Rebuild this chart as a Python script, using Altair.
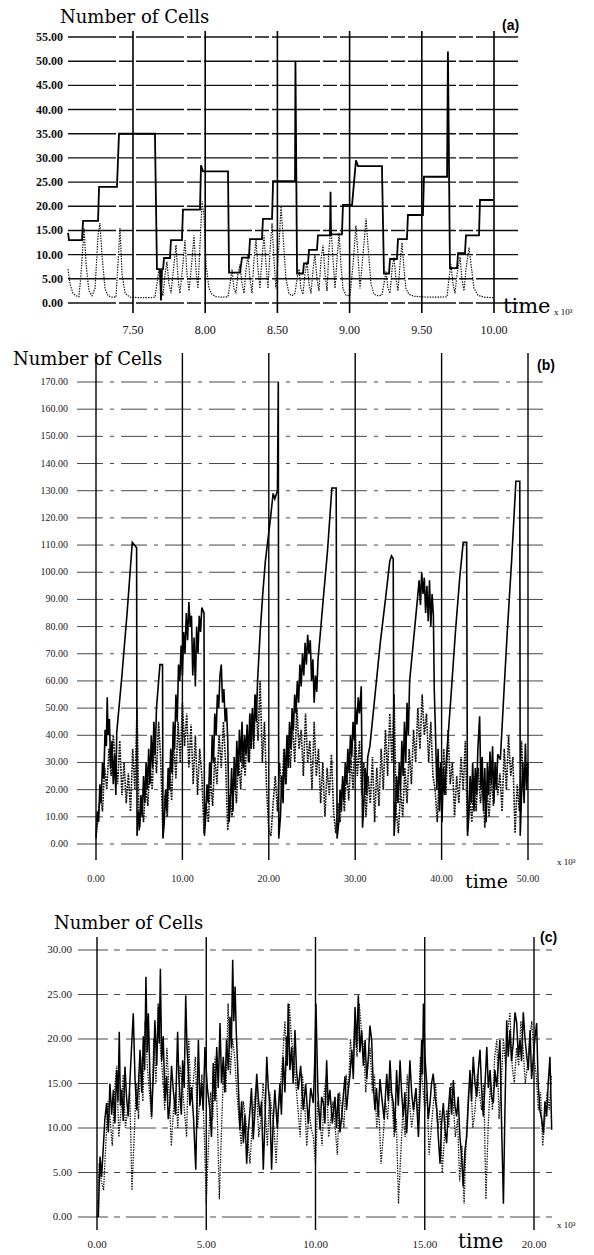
import altair as alt
import pandas as pd

# ---------------- Panel (a) ----------------
a_solid = [(7.050, 14.5), (7.057, 13), (7.147, 13), (7.154, 17), (7.258, 17), (7.265, 24), (7.389, 24), (7.403, 35),
           (7.652, 35), (7.666, 7), (7.687, 7), (7.694, 0.5), (7.701, 7), (7.708, 7), (7.715, 9.3), (7.756, 9.3),
           (7.763, 13), (7.839, 13), (7.846, 19.3), (7.964, 19.3), (7.971, 28.5), (7.985, 27.2), (8.158, 27.2),
           (8.165, 6.3), (8.241, 6.3), (8.255, 9.4), (8.303, 9.4), (8.310, 13.2), (8.393, 13.2), (8.400, 17.4),
           (8.463, 17.4), (8.470, 25.2), (8.622, 25.2), (8.625, 50), (8.636, 6.1), (8.677, 6.1), (8.684, 8.2),
           (8.712, 8.2), (8.719, 11), (8.774, 11), (8.781, 14), (8.864, 14), (8.868, 23), (8.871, 14.2),
           (8.947, 14.2), (8.954, 20.3), (9.017, 20.3), (9.044, 29.5), (9.058, 28.3), (9.224, 28.3), (9.238, 6.1),
           (9.273, 6.1), (9.280, 9.1), (9.328, 9.1), (9.335, 13.2), (9.397, 13.2), (9.404, 18.2), (9.508, 18.2),
           (9.515, 26.1), (9.675, 26.1), (9.681, 52), (9.695, 7.2), (9.744, 7.2), (9.751, 10.3), (9.799, 10.3),
           (9.806, 14), (9.896, 14), (9.903, 21.3), (9.993, 21.3)]

a_dotted = [(7.050, 7), (7.064, 4), (7.084, 2), (7.105, 1.5), (7.126, 1.3), (7.140, 6), (7.161, 15.5), (7.175, 8),
            (7.195, 2.5), (7.216, 1.5), (7.237, 3), (7.258, 14), (7.271, 16.5), (7.285, 10), (7.306, 3), (7.327, 1.5),
            (7.355, 1.2), (7.382, 1.2), (7.396, 8), (7.410, 15.5), (7.424, 6), (7.445, 2), (7.479, 1.2), (7.548, 1.1),
            (7.618, 1.1), (7.652, 1.2), (7.666, 4), (7.680, 7), (7.694, 3), (7.708, 1.5), (7.722, 6), (7.735, 8.5),
            (7.749, 4), (7.763, 2), (7.784, 8), (7.798, 12), (7.812, 5), (7.825, 2), (7.846, 8), (7.860, 13),
            (7.874, 6), (7.888, 2.5), (7.909, 9), (7.922, 14), (7.936, 7), (7.950, 3), (7.964, 12), (7.978, 21),
            (7.992, 18), (8.006, 8), (8.026, 3), (8.047, 1.8), (8.075, 1.3), (8.116, 1.2), (8.158, 1.3), (8.172, 4),
            (8.186, 7), (8.199, 3), (8.213, 2), (8.227, 6), (8.241, 8), (8.255, 4), (8.269, 2), (8.283, 7),
            (8.296, 10), (8.310, 5), (8.324, 2), (8.338, 9), (8.352, 13), (8.366, 7), (8.379, 3), (8.393, 9),
            (8.407, 14), (8.421, 8), (8.435, 3), (8.449, 11), (8.463, 16.5), (8.476, 9), (8.490, 3), (8.511, 12),
            (8.525, 20), (8.539, 14), (8.559, 5), (8.580, 2), (8.601, 1.5), (8.622, 2), (8.636, 5), (8.650, 7),
            (8.663, 3), (8.677, 1.8), (8.691, 6), (8.705, 8.5), (8.719, 4), (8.733, 2), (8.747, 7), (8.760, 10),
            (8.774, 5), (8.788, 2.5), (8.802, 9), (8.816, 12), (8.830, 6), (8.844, 2.5), (8.857, 11), (8.871, 15.8),
            (8.885, 9), (8.899, 3), (8.913, 9), (8.927, 14.5), (8.940, 8), (8.954, 3), (8.975, 1.6), (9.003, 1.5),
            (9.024, 8), (9.044, 16), (9.058, 10), (9.072, 3), (9.093, 10), (9.114, 17.5), (9.127, 12), (9.148, 4),
            (9.169, 1.8), (9.197, 1.5), (9.224, 1.6), (9.238, 4), (9.252, 6.5), (9.266, 3), (9.280, 2), (9.294, 7),
            (9.307, 9.5), (9.321, 5), (9.335, 2.5), (9.349, 8), (9.363, 12.5), (9.377, 7), (9.390, 3), (9.411, 1.8),
            (9.446, 1.4), (9.487, 1.3), (9.557, 1.2), (9.626, 1.2), (9.675, 1.3), (9.688, 5), (9.702, 8), (9.716, 4),
            (9.730, 2), (9.744, 6), (9.765, 9.5), (9.778, 5), (9.792, 2.5), (9.806, 7), (9.827, 11.5), (9.841, 8),
            (9.862, 3), (9.889, 1.6), (9.931, 1.2), (9.993, 1.1)]

a_yticks = [0, 5, 10, 15, 20, 25, 30, 35, 40, 45, 50, 55]
a_xticks = [7.5, 8.0, 8.5, 9.0, 9.5, 10.0]

# ---------------- Panel (b) ----------------
b_solid = [(0, 2), (0.15, 12), (0.3, 8), (0.45, 22), (0.6, 15), (0.75, 30), (0.9, 24), (1.05, 42), (1.2, 36),
           (1.3, 54), (1.4, 40), (1.55, 46), (1.7, 28), (1.85, 38), (2.0, 22), (2.15, 33), (2.3, 18), (2.4, 41),
           (3.0, 62), (3.6, 85), (4.2, 111), (4.7, 109), (4.75, 3),
           (4.9, 12), (5.05, 6), (5.2, 18), (5.35, 10), (5.5, 25), (5.65, 15), (5.8, 30), (5.95, 20), (6.1, 35),
           (6.25, 22), (6.4, 40), (6.55, 28), (6.7, 45), (6.85, 33), (7.0, 50), (7.2, 58), (7.4, 66), (7.7, 66),
           (7.75, 2),
           (7.9, 8), (8.05, 20), (8.2, 12), (8.35, 28), (8.5, 20), (8.65, 35), (8.8, 26), (8.95, 45), (9.1, 35),
           (9.25, 55), (9.4, 45), (9.55, 66), (9.7, 60), (9.85, 73), (10.0, 62), (10.15, 78), (10.3, 70),
           (10.45, 85), (10.6, 75), (10.75, 89), (10.9, 80), (11.05, 84), (11.2, 62), (11.35, 76), (11.5, 58),
           (11.65, 80), (11.8, 70), (11.95, 84), (12.1, 78), (12.25, 87), (12.5, 85), (12.55, 3),
           (12.7, 10), (12.85, 22), (13.0, 15), (13.15, 30), (13.3, 22), (13.45, 40), (13.6, 30), (13.75, 48),
           (13.9, 40), (14.05, 55), (14.2, 50), (14.35, 62), (14.5, 66), (14.65, 52), (14.8, 57), (14.95, 45),
           (15.1, 50), (15.25, 38), (15.4, 8),
           (15.55, 15), (15.7, 28), (15.85, 12), (16.0, 32), (16.15, 20), (16.3, 38), (16.45, 25), (16.6, 42),
           (16.75, 30), (16.9, 45), (17.05, 28), (17.2, 40), (17.35, 33), (17.5, 44), (17.65, 30), (17.8, 48),
           (17.95, 35), (18.1, 50), (18.25, 38), (18.4, 55), (18.55, 45), (18.7, 60), (19.0, 78), (19.3, 92),
           (19.6, 104), (19.9, 112), (20.2, 120), (20.5, 129), (20.7, 127), (21.0, 130), (21.1, 170), (21.15, 2),
           (21.35, 10), (21.5, 25), (21.65, 15), (21.8, 35), (21.95, 22), (22.1, 40), (22.25, 28), (22.4, 45),
           (22.55, 35), (22.7, 50), (22.85, 42), (23.0, 55), (23.15, 48), (23.3, 60), (23.45, 52), (23.6, 66),
           (23.75, 58), (23.9, 70), (24.05, 62), (24.2, 74), (24.35, 66), (24.5, 77), (24.65, 70), (24.8, 75),
           (24.95, 60), (25.1, 68), (25.25, 52), (25.4, 62), (25.55, 56), (25.7, 68), (26.3, 90), (26.8, 108),
           (27.3, 131), (27.8, 131), (27.9, 2),
           (28.1, 8), (28.25, 20), (28.4, 12), (28.55, 25), (28.7, 16), (28.85, 30), (29.0, 22), (29.15, 35),
           (29.3, 26), (29.45, 40), (29.6, 32), (29.75, 45), (29.9, 38), (30.05, 50), (30.2, 44), (30.35, 54),
           (30.5, 48), (30.7, 58), (30.85, 6), (31.0, 15), (31.15, 28), (31.3, 18), (31.45, 32), (31.7, 36),
           (32.3, 55), (32.9, 74), (33.5, 90), (34.0, 104), (34.2, 106), (34.4, 105), (34.5, 3),
           (34.65, 12), (34.8, 25), (34.95, 15), (35.1, 30), (35.25, 20), (35.4, 38), (35.55, 25), (35.7, 45),
           (35.85, 30), (36.0, 52), (36.15, 40), (36.3, 60), (36.6, 70), (36.9, 80), (37.2, 90), (37.4, 97),
           (37.55, 88), (37.7, 100), (37.85, 92), (38.0, 98), (38.15, 85), (38.3, 95), (38.45, 82), (38.6, 97),
           (38.75, 80), (38.9, 92), (39.05, 84), (39.15, 57),
           (39.3, 40), (39.45, 20), (39.6, 35), (39.75, 12), (39.9, 30), (40.05, 8), (40.2, 28), (40.35, 18),
           (40.6, 33), (41.1, 55), (41.6, 78), (42.1, 98), (42.5, 111), (42.9, 111), (43.0, 3),
           (43.15, 10), (43.3, 25), (43.45, 15), (43.6, 30), (43.75, 12), (43.9, 28), (44.05, 18), (44.2, 35),
           (44.4, 47), (44.55, 20), (44.7, 32), (44.85, 12), (45.0, 28), (45.15, 8), (45.3, 30), (45.45, 18),
           (45.6, 34), (45.75, 22), (45.9, 36), (46.05, 15), (46.2, 30), (46.35, 20), (46.5, 33), (46.8, 31),
           (47.2, 55), (47.6, 78), (48.1, 104), (48.6, 133.5), (49.05, 133.5), (49.1, 3), (49.25, 18), (49.4, 30),
           (49.55, 15), (49.7, 37), (49.85, 20), (50.0, 30)]

b_dotted_t = [0, 0.25, 0.5, 0.75, 1, 1.25, 1.5, 1.75, 2, 2.25, 2.5, 2.75, 3, 3.25, 3.5, 3.75, 4, 4.25, 4.5, 4.75,
              5, 5.25, 5.5, 5.75, 6, 6.25, 6.5, 6.75, 7, 7.25, 7.5, 7.75, 8, 8.25, 8.5, 8.75, 9, 9.25, 9.5, 9.75,
              10, 10.25, 10.5, 10.75, 11, 11.25, 11.5, 11.75, 12, 12.25, 12.5, 12.75, 13, 13.25, 13.5, 13.75, 14,
              14.25, 14.5, 14.75, 15, 15.25, 15.5, 15.75, 16, 16.25, 16.5, 16.75, 17, 17.25, 17.5, 17.75, 18,
              18.25, 18.5, 18.75, 19, 19.25, 19.5, 19.75, 20, 20.25, 20.5, 20.75, 21, 21.25, 21.5, 21.75, 22,
              22.25, 22.5, 22.75, 23, 23.25, 23.5, 23.75, 24, 24.25, 24.5, 24.75, 25, 25.25, 25.5, 25.75, 26,
              26.25, 26.5, 26.75, 27, 27.25, 27.5, 27.75, 28, 28.25, 28.5, 28.75, 29, 29.25, 29.5, 29.75, 30,
              30.25, 30.5, 30.75, 31, 31.25, 31.5, 31.75, 32, 32.25, 32.5, 32.75, 33, 33.25, 33.5, 33.75, 34,
              34.25, 34.5, 34.75, 35, 35.25, 35.5, 35.75, 36, 36.25, 36.5, 36.75, 37, 37.25, 37.5, 37.75, 38,
              38.25, 38.5, 38.75, 39, 39.25, 39.5, 39.75, 40, 40.25, 40.5, 40.75, 41, 41.25, 41.5, 41.75, 42,
              42.25, 42.5, 42.75, 43, 43.25, 43.5, 43.75, 44, 44.25, 44.5, 44.75, 45, 45.25, 45.5, 45.75, 46,
              46.25, 46.5, 46.75, 47, 47.25, 47.5, 47.75, 48, 48.25, 48.5, 48.75, 49, 49.25, 49.5, 49.75, 50]
b_dotted_v = [3, 10, 18, 12, 28, 20, 35, 25, 40, 30,
              22, 38, 18, 30, 15, 26, 12, 35, 20, 50,
              5, 15, 8, 22, 14, 30, 20, 38, 26, 45,
              30, 3, 18, 10, 28, 16, 38, 24, 45, 30,
              52, 36, 48, 28, 44, 22, 40, 18, 35, 25,
              4, 15, 8, 24, 14, 32, 22, 40, 28, 45,
              30, 5, 18, 10, 26, 15, 32, 20, 38, 25,
              42, 30, 48, 35, 55, 38, 60, 30, 45, 20,
              5, 3, 15, 25, 12, 30, 18, 35, 22, 40,
              28, 45, 30, 50, 35, 42, 25, 48, 30, 38,
              20, 45, 25, 35, 15, 30, 10, 28, 18, 33,
              12, 4, 15, 8, 22, 12, 28, 16, 32, 20,
              42, 25, 38, 18, 30, 10, 25, 15, 32, 8,
              28, 14, 35, 20, 42, 25, 48, 30, 55, 12,
              4, 20, 10, 28, 15, 35, 22, 42, 30, 50,
              35, 55, 40, 48, 30, 45, 25, 20, 8, 28,
              12, 35, 18, 42, 22, 30, 10, 25, 15, 32,
              20, 38, 5, 18, 8, 25, 12, 28, 15, 22,
              6, 20, 10, 25, 14, 30, 18, 26, 12, 35,
              20, 40, 25, 32, 4, 22, 12, 38, 18, 30, 25]

b_yticks = [0, 10, 20, 30, 40, 50, 60, 70, 80, 90, 100, 110, 120, 130, 140, 150, 160, 170]
b_xticks = [0, 10, 20, 30, 40, 50]

# ---------------- Panel (c) ----------------
c_solid = [(0.06, 0), (0.10, 3.5), (0.14, 6.8), (0.21, 4.5), (0.29, 7.9), (0.36, 11.0), (0.44, 12.8), (0.52, 9.5),
           (0.59, 15.0), (0.67, 11.5), (0.75, 14.3), (0.82, 10.5), (0.90, 16.5), (0.96, 13.0), (1.02, 20.8),
           (1.07, 12.5), (1.13, 14.3), (1.20, 10.8), (1.28, 16.9), (1.35, 13.5), (1.43, 11.3), (1.55, 17.5),
           (1.66, 22.9), (1.74, 15.5), (1.82, 12.0), (1.90, 15.0), (1.97, 18.8), (2.05, 14.0), (2.12, 20.3),
           (2.18, 16.5), (2.24, 27.0), (2.30, 18.5), (2.35, 22.9), (2.42, 16.0), (2.50, 11.3), (2.57, 15.5),
           (2.65, 22.1), (2.73, 17.0), (2.81, 23.6), (2.85, 19.5), (2.90, 27.9), (2.96, 17.5), (3.03, 20.3),
           (3.11, 13.0), (3.19, 15.8), (3.26, 11.0), (3.34, 12.8), (3.41, 17.0), (3.49, 14.3), (3.59, 11.5),
           (3.69, 20.8), (3.74, 16.0), (3.80, 13.5), (3.86, 11.5), (3.92, 17.6), (3.99, 14.5), (4.06, 24.9),
           (4.12, 19.0), (4.18, 16.5), (4.25, 12.5), (4.33, 14.6), (4.42, 11.0), (4.52, 5.3), (4.58, 13.0),
           (4.64, 19.9), (4.71, 12.5), (4.79, 15.0), (4.86, 12.0), (4.94, 19.1), (5.05, 14.5), (5.17, 12.0),
           (5.24, 9.0), (5.32, 17.3), (5.40, 13.0), (5.48, 19.1), (5.55, 14.5), (5.63, 21.8), (5.70, 15.0),
           (5.78, 18.0), (5.85, 14.0), (5.93, 19.9), (6.01, 16.5), (6.09, 22.5), (6.15, 19.0), (6.21, 28.9),
           (6.26, 22.0), (6.32, 25.9), (6.37, 21.0), (6.42, 18.0), (6.48, 14.0), (6.54, 9.8), (6.62, 13.0),
           (6.70, 8.3), (6.77, 11.5), (6.85, 6.0), (6.92, 9.5), (7.00, 12.0), (7.07, 14.5), (7.15, 8.7),
           (7.23, 12.0), (7.31, 16.1), (7.38, 13.5), (7.46, 11.3), (7.53, 13.0), (7.61, 5.3), (7.69, 11.0),
           (7.77, 18.0), (7.84, 14.5), (7.92, 12.4), (7.95, 9.0), (7.99, 5.3), (8.06, 10.5), (8.14, 14.3),
           (8.25, 10.0), (8.37, 15.0), (8.44, 11.5), (8.52, 18.0), (8.60, 14.0), (8.68, 20.3), (8.71, 17.0),
           (8.75, 24.0), (8.83, 16.5), (8.91, 19.1), (8.98, 15.0), (9.06, 21.0), (9.13, 16.5), (9.21, 14.3),
           (9.32, 17.0), (9.44, 12.0), (9.55, 15.0), (9.67, 10.5), (9.78, 14.5), (9.90, 12.8), (9.96, 17.0),
           (10.02, 24.0), (10.11, 14.0), (10.21, 9.8), (10.28, 13.5), (10.36, 12.8), (10.43, 10.5), (10.51, 17.6),
           (10.58, 12.5), (10.66, 14.3), (10.77, 10.5), (10.89, 13.5), (10.96, 10.0), (11.04, 13.9), (11.12, 9.5),
           (11.20, 11.3), (11.27, 13.5), (11.35, 15.8), (11.42, 12.0), (11.50, 14.3), (11.58, 16.0), (11.66, 18.8),
           (11.73, 15.5), (11.81, 23.6), (11.88, 19.0), (11.96, 24.9), (12.03, 18.5), (12.11, 21.0), (12.19, 17.0),
           (12.27, 19.9), (12.34, 15.5), (12.42, 18.0), (12.49, 21.5), (12.57, 19.9), (12.64, 15.0), (12.72, 12.0),
           (12.79, 14.5), (12.87, 11.3), (12.95, 15.5), (13.03, 13.5), (13.14, 11.0), (13.26, 16.1), (13.33, 13.0),
           (13.41, 17.6), (13.48, 14.0), (13.56, 12.8), (13.63, 9.5), (13.71, 16.5), (13.79, 12.5), (13.87, 17.6),
           (13.94, 14.0), (14.02, 11.3), (14.09, 14.0), (14.17, 9.4), (14.24, 12.5), (14.32, 17.6), (14.40, 14.0),
           (14.48, 12.0), (14.60, 14.5), (14.71, 9.0), (14.78, 13.5), (14.86, 19.9), (14.90, 16.0), (14.94, 24.0),
           (15.01, 18.0), (15.09, 15.0), (15.16, 11.0), (15.24, 12.8), (15.31, 15.0), (15.39, 16.1), (15.47, 13.5),
           (15.55, 12.0), (15.62, 9.0), (15.70, 6.0), (15.77, 10.5), (15.85, 12.8), (15.92, 10.0), (16.00, 8.3),
           (16.08, 12.0), (16.16, 14.6), (16.23, 11.5), (16.31, 15.4), (16.38, 12.5), (16.46, 11.3), (16.53, 13.5),
           (16.61, 9.0), (16.68, 7.0), (16.76, 3.4), (16.84, 7.5), (16.92, 9.0), (16.99, 12.5), (17.07, 16.5),
           (17.14, 13.0), (17.22, 18.0), (17.30, 15.0), (17.38, 13.5), (17.45, 16.5), (17.53, 18.8), (17.60, 14.5),
           (17.68, 11.3), (17.76, 15.0), (17.84, 19.1), (17.91, 14.5), (17.99, 16.5), (18.06, 13.5), (18.14, 12.8),
           (18.21, 16.5), (18.29, 14.6), (18.36, 17.0), (18.44, 19.9), (18.52, 10.0), (18.60, 1.5), (18.67, 12.0),
           (18.75, 22.1), (18.82, 18.0), (18.90, 21.0), (18.97, 17.5), (19.05, 19.5), (19.13, 23.0), (19.21, 21.8),
           (19.28, 18.0), (19.36, 19.9), (19.43, 17.5), (19.51, 23.0), (19.59, 20.0), (19.67, 18.0), (19.74, 16.5),
           (19.82, 21.0), (19.89, 15.5), (19.97, 18.0), (20.04, 20.0), (20.12, 21.8), (20.19, 15.0), (20.27, 12.0),
           (20.35, 11.0), (20.43, 9.4), (20.50, 13.0), (20.58, 11.3), (20.65, 15.0), (20.73, 18.0), (20.81, 9.8)]

c_dotted_t = [0.0, 0.1, 0.2, 0.3, 0.4, 0.5, 0.6, 0.7, 0.8, 0.9, 1.0, 1.1, 1.2, 1.3, 1.4, 1.5, 1.6, 1.7, 1.8, 1.9,
              2.0, 2.1, 2.2, 2.3, 2.4, 2.5, 2.6, 2.7, 2.8, 2.9, 3.0, 3.1, 3.2, 3.3, 3.4, 3.5, 3.6, 3.7, 3.8, 3.9,
              4.0, 4.1, 4.2, 4.3, 4.4, 4.5, 4.6, 4.7, 4.8, 4.9, 5.0, 5.1, 5.2, 5.3, 5.4, 5.5, 5.6, 5.7, 5.8, 5.9,
              6.0, 6.1, 6.2, 6.3, 6.4, 6.5, 6.6, 6.7, 6.8, 6.9, 7.0, 7.1, 7.2, 7.3, 7.4, 7.5, 7.6, 7.7, 7.8, 7.9,
              8.0, 8.1, 8.2, 8.3, 8.4, 8.5, 8.6, 8.7, 8.8, 8.9, 9.0, 9.1, 9.2, 9.3, 9.4, 9.5, 9.6, 9.7, 9.8, 9.9,
              10.0, 10.1, 10.2, 10.3, 10.4, 10.5, 10.6, 10.7, 10.8, 10.9, 11.0, 11.1, 11.2, 11.3, 11.4, 11.5,
              11.6, 11.7, 11.8, 11.9, 12.0, 12.1, 12.2, 12.3, 12.4, 12.5, 12.6, 12.7, 12.8, 12.9, 13.0, 13.1,
              13.2, 13.3, 13.4, 13.5, 13.6, 13.7, 13.8, 13.9, 14.0, 14.1, 14.2, 14.3, 14.4, 14.5, 14.6, 14.7,
              14.8, 14.9, 15.0, 15.1, 15.2, 15.3, 15.4, 15.5, 15.6, 15.7, 15.8, 15.9, 16.0, 16.1, 16.2, 16.3,
              16.4, 16.5, 16.6, 16.7, 16.8, 16.9, 17.0, 17.1, 17.2, 17.3, 17.4, 17.5, 17.6, 17.7, 17.8, 17.9,
              18.0, 18.1, 18.2, 18.3, 18.4, 18.5, 18.6, 18.7, 18.8, 18.9, 19.0, 19.1, 19.2, 19.3, 19.4, 19.5,
              19.6, 19.7, 19.8, 19.9, 20.0, 20.1, 20.2, 20.3, 20.4, 20.5, 20.6, 20.7, 20.8]
c_dotted_v = [0, 6, 4, 3, 8, 13, 11, 8, 14, 17, 9, 12, 16, 10, 12, 14, 3, 9, 15, 11,
              18, 13, 22, 17, 14, 11, 20, 15, 24, 19, 16, 12, 19, 14, 8, 12, 14, 10, 17, 15,
              12, 9, 20, 13, 15, 18, 10, 13, 16, 10, 1.5, 8, 14, 11, 18, 12, 2, 10, 17, 14,
              24, 16, 20, 18, 14, 11, 8, 13, 11, 9, 6, 10, 13, 15, 9, 11, 15, 12, 8, 14,
              12, 10, 6, 12, 15, 18, 22, 17, 24, 20, 18, 15, 12, 9, 16, 13, 8, 12, 10, 9,
              6, 13, 11, 8, 14, 16, 9, 11, 13, 10, 7, 14, 12, 10, 16, 14,
              20, 17, 22, 18, 24, 21, 19, 14, 17, 19, 14, 16, 10, 12, 6, 9,
              13, 11, 15, 13, 9, 11, 1.5, 7, 12, 9, 16, 13, 10, 12, 14, 11,
              18, 15, 12, 14, 7, 10, 13, 15, 10, 12, 5, 9, 12, 10, 15, 13,
              9, 11, 4, 8, 1.5, 9, 14, 16, 10, 12, 16, 14, 12, 15, 2, 10,
              15, 12, 18, 20, 11, 15, 20, 17, 21, 23, 17, 15, 19, 17, 22, 19,
              15, 17, 20, 22, 18, 16, 12, 14, 8, 11, 14, 12, 16]

c_yticks = [0, 5, 10, 15, 20, 25, 30]
c_xticks = [0, 5, 10, 15, 20]

SERIF = "Liberation Serif"
TITLE = "DejaVu Serif"
SANS = "Liberation Sans"


def pairs_df(pairs):
    return pd.DataFrame({"t": [p[0] for p in pairs], "v": [p[1] for p in pairs], "i": list(range(len(pairs)))})


def lists_df(ts, vs):
    return pd.DataFrame({"t": ts, "v": vs, "i": list(range(len(ts)))})


def note(text, x, y, size, font, weight="normal", align="left"):
    return alt.Chart(pd.DataFrame({"k": [0]})).mark_text(
        text=text, font=font, fontSize=size, fontWeight=weight, align=align,
        baseline="alphabetic", color="black"
    ).encode(x=alt.value(x), y=alt.value(y))


def panel(solid_df, dotted_df, yticks, xticks, xdom, xrng, ydom, yrng, gx0, gx1, vy0, vy1,
          ylab_x, ylab_style, xlab_y, xlab_style, solid_w, dot_w, dot_dash, grid_style, v_style, notes):
    xs = alt.Scale(domain=xdom, range=xrng, nice=False, zero=False)
    ys = alt.Scale(domain=ydom, range=yrng, nice=False, zero=False)
    ydf = pd.DataFrame({"v": yticks})
    xdf = pd.DataFrame({"v": xticks})
    hgrid = alt.Chart(ydf).mark_rule(**grid_style).encode(
        y=alt.Y("v:Q", scale=ys, axis=None), x=alt.value(gx0), x2=alt.value(gx1))
    vgrid = alt.Chart(xdf).mark_rule(**v_style).encode(
        x=alt.X("v:Q", scale=xs, axis=None), y=alt.value(vy0), y2=alt.value(vy1))
    dot = alt.Chart(dotted_df).mark_line(color="#111", strokeWidth=dot_w, strokeDash=dot_dash).encode(
        x=alt.X("t:Q", scale=xs, axis=None), y=alt.Y("v:Q", scale=ys, axis=None), order=alt.Order("i:Q"))
    sol = alt.Chart(solid_df).mark_line(color="black", strokeWidth=solid_w).encode(
        x=alt.X("t:Q", scale=xs, axis=None), y=alt.Y("v:Q", scale=ys, axis=None), order=alt.Order("i:Q"))
    ylab = alt.Chart(ydf).mark_text(align="right", baseline="middle", **ylab_style).encode(
        y=alt.Y("v:Q", scale=ys, axis=None), x=alt.value(ylab_x), text=alt.Text("v:Q", format=".2f"))
    xlab = alt.Chart(xdf).mark_text(align="center", baseline="middle", **xlab_style).encode(
        x=alt.X("v:Q", scale=xs, axis=None), y=alt.value(xlab_y), text=alt.Text("v:Q", format=".2f"))
    return alt.layer(hgrid, vgrid, dot, sol, ylab, xlab, *notes)


pa = panel(
    pairs_df(a_solid), pairs_df(a_dotted), a_yticks, a_xticks,
    [7.0, 10.0], [60.8, 494], [0, 55], [303, 37], 68, 518, 31, 313,
    63, dict(font=SERIF, fontSize=12, fontWeight="bold", color="#111"),
    330, dict(font=SERIF, fontSize=12, color="#111"),
    1.8, 1.2, [1.4, 1.2], dict(color="#111", strokeWidth=1.4, strokeDash=[48, 3, 14, 3]),
    dict(color="black", strokeWidth=1.6),
    [note("Number of Cells", 60, 23, 18, TITLE),
     note("(a)", 502, 30, 14, SANS, "bold"),
     note("time", 503, 313, 21, TITLE),
     note("x 10³", 554, 315, 9, SERIF)])

pb = panel(
    pairs_df(b_solid), lists_df(b_dotted_t, b_dotted_v), b_yticks, b_xticks,
    [0, 50], [96, 528], [0, 170], [844, 382], 77, 548, 353, 860,
    68, dict(font=SERIF, fontSize=10, color="#222"),
    879, dict(font=SERIF, fontSize=10, color="#222"),
    1.6, 1.6, [1.8, 1.0], dict(color="#333", strokeWidth=0.9, strokeDash=[26, 7, 4, 7]),
    dict(color="black", strokeWidth=1.4),
    [note("Number of Cells", 13, 365, 18, TITLE),
     note("(b)", 537, 370, 14, SANS, "bold"),
     note("time", 465, 888, 19, TITLE),
     note("x 10³", 557, 865, 9, SERIF)])

pc = panel(
    pairs_df(c_solid), lists_df(c_dotted_t, c_dotted_v), c_yticks, c_xticks,
    [0, 20], [97, 534], [0, 30], [1217, 950], 78, 552, 937, 1230,
    72, dict(font=SERIF, fontSize=11, color="#222"),
    1245, dict(font=SERIF, fontSize=11, color="#222"),
    1.5, 1.3, [1.4, 1.2], dict(color="#333", strokeWidth=0.9, strokeDash=[30, 6, 6, 6]),
    dict(color="black", strokeWidth=1.4),
    [note("Number of Cells", 54, 929, 18, TITLE),
     note("(c)", 540, 942, 14, SANS, "bold"),
     note("time", 458, 1248, 20, TITLE),
     note("x 10³", 557, 1228, 9, SERIF)])

chart = alt.layer(pa, pb, pc).resolve_scale(x="independent", y="independent").properties(
    width=594, height=1255, padding=0, autosize=alt.AutoSizeParams(type="none")
).configure_view(stroke=None)

chart.save("out.html", embed_options={"renderer": "svg", "actions": False})
